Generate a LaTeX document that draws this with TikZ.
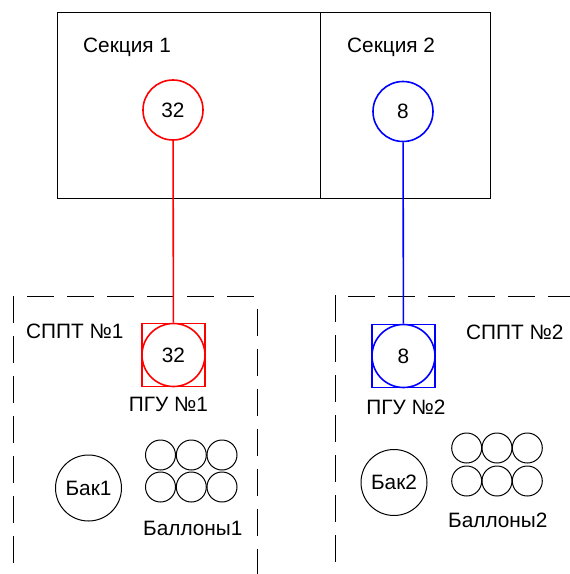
\documentclass[tikz,border=0pt]{standalone}
\usepackage{fontspec}
\setmainfont{Liberation Sans}
\usetikzlibrary{positioning}

\begin{document}
\begin{tikzpicture}[
  x=1pt, y=-1pt,
  font=\fontsize{20.8}{24}\selectfont,
  section/.style={rectangle, draw, line width=1pt, inner sep=0pt},
  source/.style={circle, draw, line width=1.6pt, minimum size=60pt, inner sep=0pt},
  pgubox/.style={rectangle, draw, line width=1.6pt, minimum size=63pt, inner sep=0pt},
  pguring/.style={circle, draw, line width=1.6pt, minimum size=63pt, inner sep=0pt},
  tank/.style={circle, draw, line width=1pt, minimum size=66pt, inner sep=0pt},
  balloon/.style={circle, draw, line width=1pt, minimum size=30pt, inner sep=0pt},
  zone/.style={line width=1pt, dash pattern=on 27pt off 13pt},
  caption/.style={anchor=base west, inner sep=0pt},
  link/.style={line width=1.6pt}
]
\useasboundingbox (0,0) rectangle (570,574);

% sections
\node[section, minimum width=263pt, minimum height=186pt] (sec1) at (188.5,105) {};
\node[section, minimum width=170pt, minimum height=186pt] (sec2) at (405,105) {};
\node[caption] (sec1label) at (83,52) {Секция 1};
\node[caption] (sec2label) at (347,52) {Секция 2};

\node[source, draw=red] (src1) at (173,110) {32};
\node[source, draw=blue] (src2) at (403,111.5) {8};

% fire protection zones
\coordinate (z1a) at (13,296);
\coordinate (z1b) at (13,574);
\coordinate (z1c) at (27,296);
\coordinate (z1d) at (257,296);
\coordinate (z1e) at (257,309);
\coordinate (z1f) at (257,574);
\draw[zone] (z1a) -- (z1b);
\draw[zone] (z1c) -- (z1d);
\draw[zone] (z1e) -- (z1f);

\coordinate (z2a) at (335,295);
\coordinate (z2b) at (335,574);
\coordinate (z2c) at (348,296);
\coordinate (z2d) at (570,296);
\draw[zone] (z2a) -- (z2b);
\draw[zone] (z2c) -- (z2d);

\node[caption] (zone1label) at (26,338) {СППТ №1};
\node[caption] (zone2label) at (466,339) {СППТ №2};

% gas units
\node[pgubox, draw=red] (pgu1) at (173.5,355) {};
\node[pguring, draw=red] (pgu1in) at (pgu1) {32};
\node[pgubox, draw=blue] (pgu2) at (403.5,356) {};
\node[pguring, draw=blue] (pgu2in) at (pgu2) {8};
\node[below=10pt of pgu1, xshift=-5pt, inner sep=0pt] (pgu1label) {ПГУ №1};
\node[below=11pt of pgu2, xshift=2.5pt, inner sep=0pt] (pgu2label) {ПГУ №2};

\draw[link, red] (src1) -- (pgu1);
\draw[link, blue] (src2) -- (pgu2);

% tanks and balloons
\node[tank] (tank1) at (88.5,488) {Бак1};
\node[tank] (tank2) at (394,482.5) {Бак2};

\foreach \i/\bx in {1/160.5, 2/191.3, 3/222} {
  \node[balloon] (bal1a\i) at (\bx,455) {};
  \node[balloon] (bal1b\i) at (\bx,487) {};
}
\foreach \i/\bx in {1/466.7, 2/497, 3/527.3} {
  \node[balloon] (bal2a\i) at (\bx,448) {};
  \node[balloon] (bal2b\i) at (\bx,481) {};
}
\node[caption] (bal1label) at (143,535) {Баллоны1};
\node[caption] (bal2label) at (448,527) {Баллоны2};

\end{tikzpicture}
\end{document}
